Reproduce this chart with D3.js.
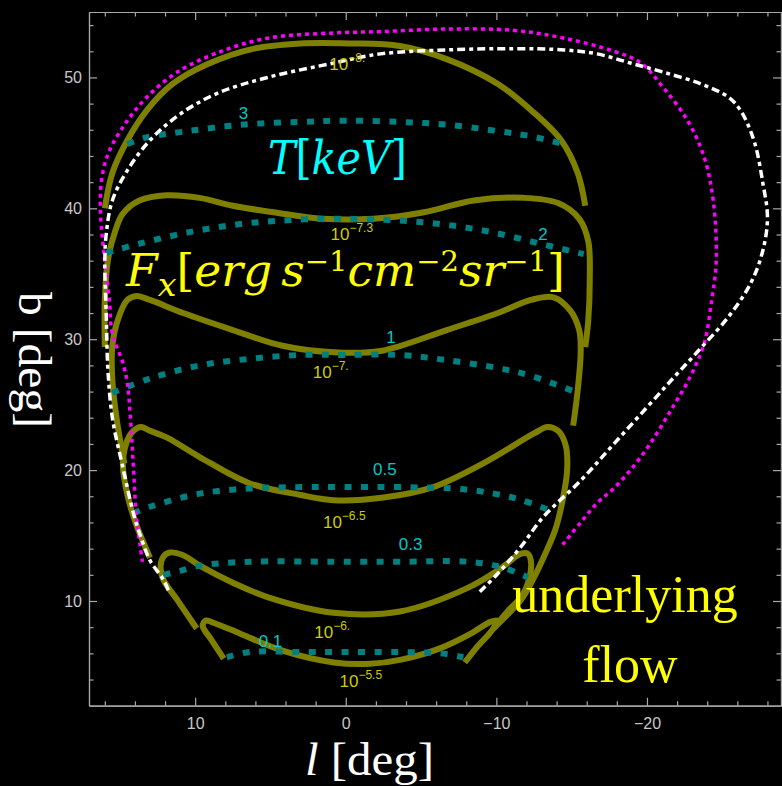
<!DOCTYPE html>
<meta charset="utf-8">
<style>
    body { margin: 0; background: #000; }
    svg { display: block; background: #000; }
    .axis path, .axis line { stroke: #a8a8a8; stroke-width: 1.2; }
    .axis text { font: 16px "Liberation Sans", Arial, sans-serif; fill: #c8c8c8; }
</style>
<svg id="chart" width="782" height="786"></svg>
<script src="https://cdn.jsdelivr.net/npm/d3@7"></script>
<script>
    // X-ray flux contours, points are [l, b] in degrees
    const fluxM8 = [[16.0,40.0],[15.5,42.7],[14.5,45.2],[13.2,47.5],[11.5,49.5],[9.2,51.0],[6.1,52.2],[3.0,52.6],[-0.3,52.6],[-3.6,52.4],[-6.7,51.4],[-10.1,49.5],[-12.3,47.5],[-14.3,45.2],[-15.4,42.7],[-15.9,40.2]];
    const fluxM73 = [[16.0,29.4],[16.0,33.0],[15.8,36.0],[15.3,38.3],[14.8,39.6],[13.7,40.6],[11.9,41.0],[9.7,40.8],[7.5,40.2],[4.8,39.7],[1.5,39.2],[-1.8,39.2],[-5.2,39.7],[-8.5,40.6],[-11.8,40.8],[-14.1,40.4],[-15.5,39.2],[-16.1,37.5],[-16.2,34.5],[-16.1,31.4],[-15.9,29.4]];
    const fluxM7 = [[14.7,20.5],[15.2,23.8],[15.5,26.9],[15.5,29.5],[15.1,31.6],[14.5,33.0],[13.9,33.3],[13.0,33.0],[10.8,32.0],[7.5,30.7],[4.2,29.5],[0.8,29.0],[-2.3,29.1],[-6.7,30.7],[-10.1,32.0],[-12.3,33.0],[-13.8,33.2],[-14.9,32.2],[-15.5,30.7],[-15.6,29.1],[-15.4,26.1],[-15.1,23.4]];
    const fluxM65 = [[13.0,13.3],[13.9,15.8],[14.5,18.1],[14.8,20.5],[14.5,22.3],[14.1,23.0],[13.6,23.3],[13.0,23.0],[11.9,22.5],[9.7,21.0],[6.4,19.0],[3.0,18.1],[0.8,17.7],[-2.5,17.9],[-5.8,18.7],[-9.1,20.5],[-12.5,22.8],[-13.4,23.3],[-14.1,23.0],[-14.6,21.9],[-14.7,20.0],[-14.4,17.7],[-13.9,15.4],[-13.2,13.5],[-12.5,11.8],[-11.7,10.2],[-10.6,8.8],[-9.8,7.9]];
    const fluxM6 = [[9.9,7.9],[11.2,10.1],[12.1,11.6],[12.3,12.6],[12.1,13.4],[11.7,13.7],[10.8,13.5],[9.7,12.7],[7.5,11.4],[5.2,10.3],[0.8,9.1],[-3.6,9.2],[-8.1,11.0],[-10.3,12.5],[-11.6,13.6],[-12.1,13.6],[-12.3,13.0],[-12.2,11.8],[-11.7,10.4],[-10.9,9.4],[-9.8,7.9]];
    const fluxM55 = [[8.1,5.6],[8.9,7.0],[9.5,8.1],[9.3,8.5],[8.7,8.3],[7.0,7.5],[4.2,6.2],[0.8,5.3],[-1.6,5.2],[-3.6,5.5],[-6.3,6.4],[-8.3,7.5],[-9.6,8.4],[-10.1,8.5],[-9.6,7.6],[-8.8,6.6],[-7.9,5.3]];

    // temperature contours (keV)
    const tempT3 = [[14.5,44.9],[13.3,45.4],[10.5,45.9],[6.8,46.4],[3.0,46.6],[0.0,46.7],[-3.6,46.6],[-6.7,46.4],[-10.1,45.9],[-12.3,45.5],[-14.5,44.9]];
    const tempT2 = [[15.9,36.6],[13.7,37.3],[10.3,38.2],[7.0,38.8],[3.7,39.1],[0.4,39.2],[-3.0,39.1],[-6.3,38.8],[-9.6,38.2],[-12.9,37.3],[-15.8,36.5]];
    const tempT1 = [[15.5,25.9],[13.0,27.0],[9.7,28.0],[6.4,28.5],[3.0,28.8],[0.0,28.8],[-3.6,28.8],[-6.7,28.4],[-10.1,27.8],[-12.3,27.2],[-15.4,25.9]];
    const tempT05 = [[14.1,16.7],[13.0,17.2],[9.7,18.2],[6.4,18.6],[3.0,18.7],[0.0,18.7],[-3.6,18.7],[-8.1,18.5],[-11.4,17.8],[-13.6,16.9]];
    const tempT03 = [[12.1,12.0],[11.0,12.3],[9.7,12.7],[6.4,13.0],[0.8,13.0],[-3.6,13.0],[-8.1,13.0],[-10.3,12.6],[-12.1,11.8]];
    const tempT01 = [[7.9,5.7],[6.4,6.1],[3.0,6.1],[0.0,6.1],[-3.6,6.1],[-6.3,6.0],[-7.8,5.7]];

    // underlying flow outlines
    const magentaFlow = [[-14.4,14.3],[-15.6,16.0],[-16.7,17.5],[-17.7,18.5],[-18.9,20.0],[-20.2,22.0],[-21.6,24.6],[-22.9,27.2],[-23.8,29.7],[-24.3,33.0],[-24.6,36.0],[-24.4,40.6],[-23.8,43.9],[-22.7,46.7],[-21.1,49.2],[-19.6,51.1],[-17.8,52.0],[-14.5,53.0],[-11.1,53.6],[-6.7,53.7],[-2.3,53.5],[0.8,53.4],[5.2,53.0],[8.5,51.9],[11.2,50.4],[13.2,48.5],[14.5,46.7],[15.7,44.4],[16.2,42.3],[16.3,40.1],[16.1,37.0],[15.7,33.0],[15.5,30.4],[14.8,28.2],[14.5,26.6],[14.3,24.0],[14.1,20.2],[13.9,16.4],[13.5,13.0]];
    const whiteFlow = [[-8.9,10.7],[-10.1,12.1],[-11.6,14.1],[-13.1,16.4],[-15.6,19.2],[-17.8,22.0],[-20.0,24.8],[-21.8,27.1],[-23.4,29.1],[-25.4,31.7],[-26.9,34.3],[-27.7,36.8],[-28.0,39.3],[-27.7,41.9],[-27.1,45.2],[-26.2,47.5],[-25.4,48.5],[-23.6,49.5],[-21.1,50.4],[-18.9,51.1],[-16.7,51.8],[-14.5,52.1],[-11.1,52.2],[-6.7,52.1],[-2.3,51.8],[0.8,51.1],[5.2,50.0],[8.5,48.8],[11.0,47.2],[13.0,45.2],[14.5,42.9],[15.5,40.6],[15.9,38.1],[16.0,36.0],[15.9,31.7],[15.8,27.8],[15.5,24.0],[14.8,20.2],[14.1,16.7],[13.7,15.2],[13.0,13.1],[12.1,11.6],[11.7,10.6]];

    // contour labels: position [l, b] and text
    const fluxLabels = [
        {l: -0.1, b: 50.6, exp: "−8."},
        {l: -0.4, b: 37.55, exp: "−7.3"},
        {l: 1.0, b: 27.0, exp: "−7."},
        {l: 0.1, b: 15.6, exp: "−6.5"},
        {l: 0.9, b: 7.15, exp: "−6."},
        {l: -1.0, b: 3.4, exp: "−5.5"}
    ];
    const tempLabels = [
        {l: 6.8, b: 46.8, text: "3"},
        {l: -13.1, b: 37.6, text: "2"},
        {l: -3.0, b: 29.7, text: "1"},
        {l: -2.6, b: 19.6, text: "0.5"},
        {l: -4.3, b: 13.9, text: "0.3"},
        {l: 5.0, b: 6.5, text: "0.1"}
    ];

    const xMajor = [10, 0, -10, -20];
    const yMajor = [10, 20, 30, 40, 50];
    const xMinor = d3.range(16, -29, -2).filter(d => d % 10 !== 0);
    const yMinor = d3.range(4, 55, 2).filter(d => d % 10 !== 0);

    const svg = d3.select("#chart");
    const mLeft = 89, mRight = 781, mTop = 12, mBottom = 705.7;

    const x = d3.scaleLinear().domain([17.05, -28.9]).range([mLeft, mRight]);
    const y = d3.scaleLinear().domain([2, 55]).range([mBottom, mTop]);

    // frame + ticks (inward, on all four sides)
    function frameAxis(axisFn, scale, pos, values, size, labels, pad) {
        const ax = axisFn(scale).tickValues(values).tickSize(-size).tickSizeOuter(0);
        if (labels) ax.tickPadding(pad).tickFormat(d3.format("d"));
        else ax.tickFormat("");
        svg.append("g").attr("class", "axis").attr("transform", pos).call(ax);
    }
    frameAxis(d3.axisBottom, x, `translate(0,${mBottom})`, xMajor, 8, true, 12);
    frameAxis(d3.axisBottom, x, `translate(0,${mBottom})`, xMinor, 4.5, false);
    frameAxis(d3.axisTop, x, `translate(0,${mTop})`, xMajor, 8, false);
    frameAxis(d3.axisTop, x, `translate(0,${mTop})`, xMinor, 4.5, false);
    frameAxis(d3.axisLeft, y, `translate(${mLeft},0)`, yMajor, 8, true, 7);
    frameAxis(d3.axisLeft, y, `translate(${mLeft},0)`, yMinor, 4.5, false);
    frameAxis(d3.axisRight, y, `translate(${mRight},0)`, yMajor, 8, false);
    frameAxis(d3.axisRight, y, `translate(${mRight},0)`, yMinor, 4.5, false);
    svg.selectAll(".axis text").text(function () { return this.textContent.replace("-", "−"); });

    const line = d3.line()
        .x(d => x(d[0]))
        .y(d => y(d[1]))
        .curve(d3.curveCatmullRom.alpha(0.5));

    const plot = svg.append("g");

    plot.selectAll("path.flux")
        .data([fluxM8, fluxM73, fluxM7, fluxM65, fluxM6, fluxM55])
        .join("path")
        .attr("class", "flux")
        .attr("d", line)
        .attr("fill", "none")
        .attr("stroke", "#808000")
        .attr("stroke-width", 6)
        .attr("stroke-linejoin", "round");

    plot.selectAll("path.temp")
        .data([tempT3, tempT2, tempT1, tempT05, tempT03, tempT01])
        .join("path")
        .attr("class", "temp")
        .attr("d", line)
        .attr("fill", "none")
        .attr("stroke", "#008080")
        .attr("stroke-width", 6)
        .attr("stroke-dasharray", "7,9.5");

    plot.append("path")
        .datum(magentaFlow)
        .attr("d", line)
        .attr("fill", "none")
        .attr("stroke", "#ff00ff")
        .attr("stroke-width", 3.5)
        .attr("stroke-dasharray", "4,4");

    plot.append("path")
        .datum(whiteFlow)
        .attr("d", line)
        .attr("fill", "none")
        .attr("stroke", "#ffffff")
        .attr("stroke-width", 3.5)
        .attr("stroke-dasharray", "8,4,4,4");

    // contour labels
    const fl = svg.selectAll("text.flabel")
        .data(fluxLabels)
        .join("text")
        .attr("class", "flabel")
        .attr("x", d => x(d.l))
        .attr("y", d => y(d.b))
        .attr("text-anchor", "middle")
        .attr("fill", "#cccc00")
        .style("font", '17px "Liberation Sans", Arial, sans-serif');
    fl.append("tspan").text("10");
    fl.append("tspan").attr("dy", -8).style("font-size", "12px").text(d => d.exp);

    svg.selectAll("text.tlabel")
        .data(tempLabels)
        .join("text")
        .attr("class", "tlabel")
        .attr("x", d => x(d.l))
        .attr("y", d => y(d.b))
        .attr("text-anchor", "middle")
        .attr("fill", "#00c8c8")
        .style("font", '17px "Liberation Sans", Arial, sans-serif')
        .text(d => d.text);

    // fit a text element horizontally into [x0, x1]
    function fitWidth(sel, x0, x1) {
        const bb = sel.node().getBBox();
        const s = (x1 - x0) / bb.width;
        sel.attr("transform", `translate(${x0},0) scale(${s},1) translate(${-bb.x},0)`);
    }

    // T[keV]
    const tk = svg.append("text")
        .attr("x", 0).attr("y", 174)
        .attr("fill", "#00ffff")
        .style("font-family", '"DejaVu Serif", "Liberation Serif", serif')
        .style("font-size", "46px");
    tk.append("tspan").style("font-style", "italic").text("T");
    tk.append("tspan").text("[");
    tk.append("tspan").style("font-style", "italic").text("keV");
    tk.append("tspan").text("]");
    fitWidth(tk, 268, 407);

    // F_x[erg s^-1 cm^-2 sr^-1]
    const fx = svg.append("text")
        .attr("x", 0).attr("y", 286)
        .attr("fill", "#ffff00")
        .style("font-family", '"DejaVu Serif", "Liberation Serif", serif')
        .style("font-size", "44px");
    const parts = [
        ["F", true, 0, 44], ["x", true, 10, 32], ["[", false, -10, 44], ["erg", true, 0, 44],
        ["\u2009s", true, 0, 44], ["−1", false, -15, 28], ["cm", true, 15, 44],
        ["−2", false, -15, 28], ["sr", true, 15, 44], ["−1", false, -15, 28], ["]", false, 15, 44]
    ];
    parts.forEach(p => {
        fx.append("tspan")
            .attr("dy", p[2])
            .style("font-style", p[1] ? "italic" : "normal")
            .style("font-size", p[3] + "px")
            .text(p[0]);
    });
    fitWidth(fx, 125, 565);

    // underlying flow
    const uf = svg.append("text")
        .attr("text-anchor", "middle")
        .attr("fill", "#ffff00")
        .style("font", '52px "Liberation Serif", "Times New Roman", serif');
    uf.append("tspan").attr("x", 625).attr("y", 612).text("underlying");
    uf.append("tspan").attr("x", 630).attr("y", 682).text("flow");

    // axis titles
    const xt = svg.append("text")
        .attr("x", 0).attr("y", 775)
        .attr("fill", "#fff")
        .style("font", '46px "Liberation Serif", "Times New Roman", serif');
    xt.append("tspan").style("font-style", "italic").text("l");
    xt.append("tspan").text(" [deg]");
    fitWidth(xt, 305, 434);

    svg.append("text")
        .attr("transform", "translate(19,360) rotate(90)")
        .attr("text-anchor", "middle")
        .attr("fill", "#fff")
        .attr("textLength", 136)
        .attr("lengthAdjust", "spacingAndGlyphs")
        .style("font", '46px "Liberation Serif", "Times New Roman", serif')
        .text("b [deg]");
</script>
